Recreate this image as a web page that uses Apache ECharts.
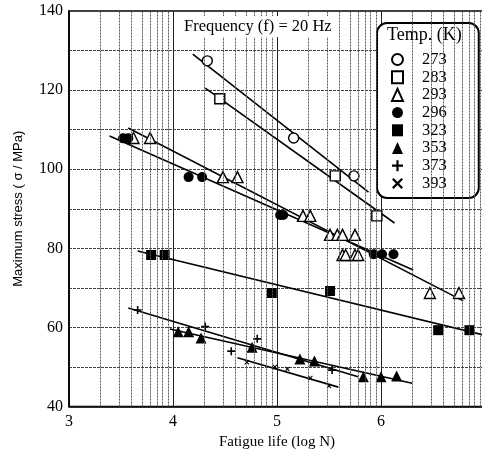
<!DOCTYPE html>
<html>
<head>
<meta charset="utf-8">
<script src="https://cdn.jsdelivr.net/npm/echarts@6/dist/echarts.min.js"></script>
<style>
  html,body{margin:0;padding:0;background:#fff;}
  #d{width:482px;height:450px;}
</style>
</head>
<body>
<div id="d"></div>
<script>
// temperatures (K) shown in the legend
var temps = ['273', '283', '293', '296', '323', '353', '373', '393'];

// [log N, stress MPa]
var p273 = [[4.33,127.4],[5.16,107.9],[5.74,98.3]];
var p283 = [[4.45,117.8],[5.56,98.3],[5.96,88.2]];
var p293 = [[3.62,107.9],[3.78,107.9],[4.48,98],[4.62,98],[5.25,88.2],[5.32,88.2],
            [5.51,83.4],[5.58,83.4],[5.63,83.4],[5.75,83.4],[5.63,78.3],[5.66,78.3],
            [5.75,78.3],[5.78,78.3],[6.47,68.7],[6.75,68.7]];
var p296 = [[3.52,107.8],[3.57,107.8],[4.15,98],[4.28,98],[5.03,88.4],[5.06,88.4],
            [5.93,78.5],[6.01,78.5],[6.12,78.5]];
var p323 = [[3.79,78.3],[3.92,78.3],[4.95,68.7],[5.51,69.2],[6.55,59.3],[6.85,59.3]];
var p353 = [[4.05,58.9],[4.15,58.9],[4.27,57.3],[4.76,55.0],[5.22,52.0],[5.36,51.5],
            [5.83,47.5],[6.00,47.5],[6.15,47.7]];
var p373 = [[3.66,64.4],[4.31,60.2],[4.56,54.0],[4.81,57.1],[5.53,49.2]];
var p393 = [[4.71,51.2],[4.98,50.0],[5.10,49.5],[5.32,47.2],[5.50,45.2]];

// fitted lines, start / end
var f273 = [[4.19,129.1],[5.88,94.2]];
var f283 = [[4.31,120.5],[6.13,86.4]];
var f293 = [[3.57,110.4],[6.79,66.7]];
var f296 = [[3.39,108.4],[6.31,74.5]];
var f323 = [[3.66,79.3],[7.0,58.0]];
var f353 = [[3.97,59.6],[6.30,45.9]];
var f373 = [[3.57,64.9],[5.78,47.5]];
var f393 = [[4.62,52.3],[5.59,44.9]];

var pts = [p273, p283, p293, p296, p323, p353, p373, p393];
var fits = [f273, f283, f293, f296, f323, f353, f373, f393];

var plusPath = 'path://M4,0H6V4H10V6H6V10H4V6H0V4H4Z';
var crossPath = 'path://M0,1.5L1.5,0L5,3.5L8.5,0L10,1.5L6.5,5L10,8.5L8.5,10L5,6.5L1.5,10L0,8.5L3.5,5Z';

var sym = ['circle', 'rect', 'triangle', 'circle', 'rect', 'triangle', plusPath, crossPath];
var hollow = [true, true, true, false, false, false, false, false];
var size = [10, 10, 11, 10, 10, 11, 8, 5];

// log minor grid lines (2..9 within each decade)
var logLines = [];
for (var d = 3; d < 7; d++) {
  for (var k = 2; k < 10; k++) {
    logLines.push({xAxis: d + Math.log10(k)});
  }
}

var serif = 'Liberation Serif';
var myChart = echarts.init(document.getElementById('d'));

var option = {
  backgroundColor: '#fff',
  animation: false,
  title: {
    text: 'Frequency (f) = 20 Hz',
    left: 178, top: 16,
    backgroundColor: '#fff',
    padding: [2, 6],
    textStyle: {fontFamily: serif, fontSize: 16.5, fontWeight: 'normal', color: '#000'}
  },
  grid: {
    left: 69, top: 11, width: 416, height: 395.5,
    outerBoundsMode: 'none',
    show: true, borderColor: '#000', borderWidth: 1.5
  },
  legend: {
    orient: 'vertical',
    left: 377, top: 23,
    padding: [28, 32, 6, 14],
    itemWidth: 11, itemHeight: 12, itemGap: 0.7,
    backgroundColor: '#fff',
    borderColor: '#000', borderWidth: 2, borderRadius: 10,
    textStyle: {fontFamily: serif, fontSize: 16.5, color: '#000', padding: [0, 0, 0, 14]},
    data: temps
  },
  graphic: [{
    type: 'text', left: 387, top: 26, z: 100,
    style: {text: 'Temp. (K)', fontFamily: serif, fontSize: 18, fill: '#000'}
  }],
  xAxis: {
    type: 'value', min: 3, max: 7, interval: 1,
    name: 'Fatigue life (log N)', nameLocation: 'middle', nameGap: 24,
    nameTextStyle: {fontFamily: serif, fontSize: 15, color: '#000'},
    axisLine: {lineStyle: {color: '#000', width: 1.5}},
    axisTick: {show: false},
    axisLabel: {fontFamily: serif, fontSize: 16, color: '#000', margin: 7},
    splitLine: {lineStyle: {color: '#222', width: 1}}
  },
  yAxis: {
    type: 'value', min: 40, max: 140, interval: 10,
    name: 'Maximum stress ( σ / MPa)', nameLocation: 'middle', nameGap: 44,
    nameTextStyle: {fontFamily: 'Liberation Sans', fontSize: 13, color: '#000'},
    axisLine: {lineStyle: {color: '#000', width: 1.5}},
    axisTick: {show: false},
    axisLabel: {
      fontFamily: serif, fontSize: 16, color: '#000', margin: 6,
      formatter: function (v) { return v % 20 === 0 ? v : ''; }
    },
    splitLine: {lineStyle: {color: '#444', width: 1.2, type: [3, 1]}}
  },
  series: []
};

// minor log grid via markLine on an empty series
option.series.push({
  name: 'grid', type: 'line', data: [], silent: true,
  markLine: {
    silent: true, symbol: 'none', label: {show: false},
    lineStyle: {color: '#555', width: 1, type: [2, 1]},
    data: logLines
  }
});

for (var i = 0; i < temps.length; i++) {
  option.series.push({
    name: 'fit' + temps[i], type: 'line', data: fits[i],
    symbol: 'none', z: 3,
    lineStyle: {color: '#000', width: 1.6}
  });
}

for (var i = 0; i < temps.length; i++) {
  option.series.push({
    name: temps[i], type: 'scatter', data: pts[i],
    symbol: sym[i], symbolSize: size[i], z: 4,
    itemStyle: hollow[i]
      ? {color: '#fff', borderColor: '#000', borderWidth: 1.4, opacity: 1}
      : {color: '#000', opacity: 1}
  });
}

option && myChart.setOption(option);
</script>
</body>
</html>
